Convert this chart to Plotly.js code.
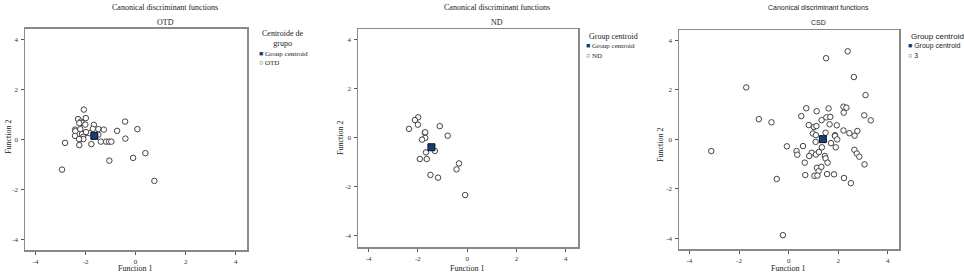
<!DOCTYPE html>
<html>
<head>
<meta charset="utf-8">
<script src="https://cdn.plot.ly/plotly-3.0.1.min.js"></script>
<style>html,body{margin:0;padding:0;background:#fff;} #chart{width:964px;height:276px;}</style>
</head>
<body>
<div id="chart"></div>
<script>
// ---- Data ----
const otdF1 = [-2.07,-2.30,-1.99,-2.19,-2.14,-2.01,-2.25,-1.67,-2.42,-2.41,-2.21,-1.71,-1.49,-1.27,-0.42,0.07,-0.74,-1.99,-1.85,-2.14,-2.42,-2.10,-1.49,-2.21,-2.09,-2.82,-2.25,-1.77,-1.39,-1.18,-1.06,-0.97,-0.41,-1.05,-0.10,0.39,-2.94,0.75,-2.26,-1.98];
const otdF2 = [1.21,0.83,0.87,0.73,0.68,0.61,0.67,0.60,0.41,0.35,0.43,0.44,0.43,0.41,0.73,0.43,0.36,0.28,0.27,0.23,0.16,0.12,0.21,0.04,0.03,-0.12,-0.21,-0.17,-0.07,-0.07,-0.07,-0.07,0.05,-0.83,-0.72,-0.53,-1.19,-1.64,0.03,0.31];
const otdCentroid = {f1: [-1.65], f2: [0.16]};

const ndF1 = [-1.99,-2.12,-2.00,-2.36,-1.11,-1.72,-1.70,-1.70,-1.83,-0.79,-1.67,-1.31,-1.92,-1.64,-0.33,-0.43,-1.49,-1.18,-0.08];
const ndF2 = [0.83,0.72,0.53,0.36,0.47,0.20,0.22,-0.01,-0.08,0.08,-0.60,-0.54,-0.87,-0.87,-1.05,-1.29,-1.52,-1.63,-2.34];
const ndCentroid = {f1: [-1.45], f2: [-0.39]};

const csdF1 = [2.38,1.51,2.63,-1.71,3.10,0.71,1.13,1.61,2.21,2.33,2.22,0.51,1.33,1.52,1.68,-1.20,-0.69,3.05,3.31,0.81,1.02,1.12,1.65,1.94,2.21,2.45,2.66,2.77,0.98,1.10,1.49,1.87,1.87,1.09,1.71,1.96,1.90,-0.07,0.58,1.34,0.32,0.35,0.93,1.10,1.22,0.83,1.46,1.49,1.57,0.65,-3.12,2.65,2.75,2.85,3.06,1.14,1.32,1.21,1.04,1.16,0.67,1.55,1.83,2.23,2.51,-0.48,-0.23];
const csdF2 = [3.56,3.28,2.52,2.10,1.79,1.26,1.14,1.25,1.32,1.28,1.08,0.94,0.78,0.89,0.91,0.82,0.69,0.97,0.77,0.58,0.50,0.54,0.61,0.57,0.36,0.25,0.15,0.34,0.24,0.17,0.27,0.17,0.14,-0.10,-0.15,0.00,-0.32,-0.28,-0.27,-0.32,-0.47,-0.62,-0.54,-0.61,-0.51,-0.67,-0.67,-0.77,-0.94,-0.94,-0.47,-0.42,-0.57,-0.70,-1.01,-1.15,-1.11,-1.29,-1.47,-1.46,-1.44,-1.40,-1.41,-1.56,-1.77,-1.60,-3.87];
const csdCentroid = {f1: [1.38], f2: [0.01]};

const tickVals = [-4,-2,0,2,4];
const tickText = ['-4','-2','0','2','4'];
const mainTitle = 'Canonical discriminant functions';
const panelNames = ['OTD','ND','CSD'];
const groupLabels = ['OTD','ND','3'];
const legendTitles = ['Centroide de<br>grupo','Group centroid','Group centroid'];
const xTitle = 'Function 1';
const yTitle = 'Function 2';

// ---- Layout helpers ----
const W = 964, H = 276;
const serif = 'Liberation Serif, Times New Roman, serif';
const sans = 'Liberation Sans, Arial, sans-serif';
const centroidColor = '#123f78';

// plot boxes in pixels: [left, right, top, bottom] and ranges
const boxes = [
  {l:25, r:247, t:28.5, b:250, xr:[-4.42,4.45], yr:[-4.4,4.45]},
  {l:358, r:578, t:29.3, b:247.3, xr:[-4.43,4.5], yr:[-4.47,4.42]},
  {l:679, r:899, t:30, b:249.3, xr:[-4.42,4.45], yr:[-4.44,4.42]}
];

const groups = [
  {f1: otdF1, f2: otdF2, c: otdCentroid},
  {f1: ndF1, f2: ndF2, c: ndCentroid},
  {f1: csdF1, f2: csdF2, c: csdCentroid}
];

const traces = [];
const layout = {
  width: W, height: H,
  margin: {l:0, r:0, t:0, b:0},
  paper_bgcolor: '#fff', plot_bgcolor: '#fff',
  showlegend: false,
  annotations: []
};

function ax(i, dom, range, isX) {
  return {
    domain: dom, range: range, fixedrange: true,
    tickvals: tickVals, ticktext: tickText,
    ticks: 'outside', ticklen: 3, tickwidth: 1, tickcolor: '#555',
    tickfont: {family: serif, size: 7, color: '#333'},
    showgrid: false, zeroline: false,
    showline: true, linecolor: '#8a8a8a', linewidth: 1.5, mirror: true,
    anchor: (isX ? 'y' : 'x') + (i === 0 ? '' : (i + 1)),
    ticklabelstandoff: 1
  };
}

function ann(text, xpx, ypx, opts) {
  return Object.assign({
    text: text, xref: 'paper', yref: 'paper',
    x: xpx / W, y: 1 - ypx / H, showarrow: false,
    xanchor: 'center', yanchor: 'middle',
    font: {family: serif, size: 8, color: '#222'}
  }, opts || {});
}

const titleCx = [165, 497, 818];
const legendX = [262, 589, 911];

boxes.forEach((b, i) => {
  const sfx = i === 0 ? '' : String(i + 1);
  layout['xaxis' + sfx] = ax(i, [b.l / W, b.r / W], b.xr, true);
  layout['yaxis' + sfx] = ax(i, [1 - b.b / H, 1 - b.t / H], b.yr, false);
  const g = groups[i];
  traces.push({
    type: 'scatter', mode: 'markers', x: g.f1, y: g.f2,
    xaxis: 'x' + sfx, yaxis: 'y' + sfx, name: groupLabels[i],
    marker: {symbol: 'circle', size: 5.5, color: '#fff', line: {color: '#444', width: 1}},
    hoverinfo: 'x+y'
  });
  traces.push({
    type: 'scatter', mode: 'markers', x: g.c.f1, y: g.c.f2,
    xaxis: 'x' + sfx, yaxis: 'y' + sfx, name: 'Group centroid',
    marker: {symbol: 'square', size: 7, color: centroidColor, line: {color: '#111', width: 1}},
    hoverinfo: 'x+y'
  });
  const titleFont = i === 2 ? {family: sans, size: 7, color: '#222'} : {family: serif, size: 8, color: '#222'};
  layout.annotations.push(ann(mainTitle, titleCx[i], 7, {font: titleFont}));
  layout.annotations.push(ann(panelNames[i], titleCx[i], 22, {font: titleFont}));
  layout.annotations.push(ann(xTitle, (b.l + b.r) / 2 - 1, 268, {font: {family: serif, size: 8, color: '#222'}}));
  layout.annotations.push(ann(yTitle, [8, 340, 660][i], [137, 138, 145][i], {textangle: -90, font: {family: serif, size: 8, color: '#222'}}));
  // legend (text-based)
  const lx = legendX[i];
  const lf = i === 2 ? {family: sans, size: 7, color: '#222'} : {family: serif, size: 7, color: '#222'};
  if (i === 0) {
    layout.annotations.push(ann(legendTitles[i], 283, 39, {font: {family: serif, size: 8, color: '#222'}}));
  } else {
    layout.annotations.push(ann(legendTitles[i], lx - 2, 36, {xanchor: 'left', font: i === 2 ? {family: sans, size: 8, color: '#222'} : {family: serif, size: 8, color: '#222'}}));
  }
  const y1 = [54, 46.5, 46.5][i], y2 = [62.5, 55.5, 55.5][i];
  layout.annotations.push(ann('<span style="color:' + centroidColor + '">■</span> Group centroid', lx - 5, y1, {xanchor: 'left', font: lf}));
  layout.annotations.push(ann('○ ' + groupLabels[i], lx - 5, y2, {xanchor: 'left', font: lf}));
});

Plotly.newPlot('chart', traces, layout, {staticPlot: true, displayModeBar: false});
</script>
</body>
</html>
